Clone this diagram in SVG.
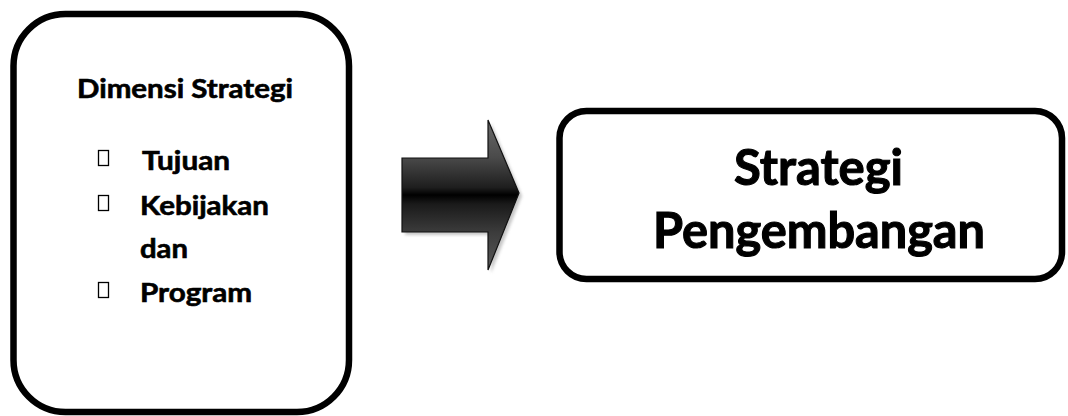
<svg xmlns="http://www.w3.org/2000/svg" width="1068" height="416" viewBox="0 0 1068 416">
  <style>
    .box { fill: #ffffff; stroke: #000000; stroke-width: 6.5; }
    .lbl { font-family: Lato, "Open Sans", "Liberation Sans", sans-serif; font-weight: bold; fill: #000000; stroke: #000000; }
    .item { font-size: 26px; stroke-width: 0.6; }
    .big { font-size: 50px; stroke-width: 1.1; }
    .tofu { fill: none; stroke: #000000; stroke-width: 1.3; }
  </style>
  <defs>
    <linearGradient id="arrowFill" gradientUnits="userSpaceOnUse" x1="0" y1="120" x2="0" y2="270">
      <stop offset="0" stop-color="#6a6a6a"/>
      <stop offset="0.25" stop-color="#4a4a4a"/>
      <stop offset="0.45" stop-color="#1e1e1e"/>
      <stop offset="0.5" stop-color="#000000"/>
      <stop offset="0.56" stop-color="#1a1a1a"/>
      <stop offset="0.75" stop-color="#3c3c3c"/>
      <stop offset="1" stop-color="#5a5a5a"/>
    </linearGradient>
    <filter id="softShadow" x="-20%" y="-20%" width="140%" height="140%">
      <feGaussianBlur stdDeviation="1.5"/>
    </filter>
  </defs>

  <!-- left box: strategy dimensions -->
  <g id="dimensi">
    <rect class="box" x="13.5" y="14" width="335.5" height="398" rx="52" ry="52"/>
    <text class="lbl item" x="77" y="98" textLength="216" lengthAdjust="spacingAndGlyphs">Dimensi Strategi</text>
    <rect class="tofu" x="98.5" y="150.5" width="10" height="15"/>
    <text class="lbl item" x="142" y="170" textLength="88" lengthAdjust="spacingAndGlyphs">Tujuan</text>
    <rect class="tofu" x="98.5" y="195.5" width="10" height="15"/>
    <text class="lbl item" x="140" y="215" textLength="129" lengthAdjust="spacingAndGlyphs">Kebijakan</text>
    <text class="lbl item" x="140" y="258" textLength="48" lengthAdjust="spacingAndGlyphs">dan</text>
    <rect class="tofu" x="98.5" y="282.5" width="10" height="15"/>
    <text class="lbl item" x="140" y="302" textLength="112" lengthAdjust="spacingAndGlyphs">Program</text>
  </g>

  <!-- block arrow between the boxes -->
  <g id="connectors">
    <path d="M405,161 H491 V123 L522,196 L491,273 V235 H405 Z" fill="#9a9a9a" opacity="0.55" filter="url(#softShadow)"/>
    <path d="M402,158 H488 V120 L519,193 L488,270 V232 H402 Z" fill="url(#arrowFill)" stroke="#111111" stroke-width="1.2" stroke-linejoin="miter"/>
  </g>

  <!-- right box: development strategy -->
  <g id="pengembangan">
    <rect class="box" x="559.5" y="111" width="502.5" height="168" rx="27" ry="27"/>
    <text class="lbl big" x="818.5" y="185" text-anchor="middle" textLength="169" lengthAdjust="spacingAndGlyphs">Strategi</text>
    <text class="lbl big" x="819" y="248" text-anchor="middle" textLength="332" lengthAdjust="spacingAndGlyphs">Pengembangan</text>
  </g>
</svg>
